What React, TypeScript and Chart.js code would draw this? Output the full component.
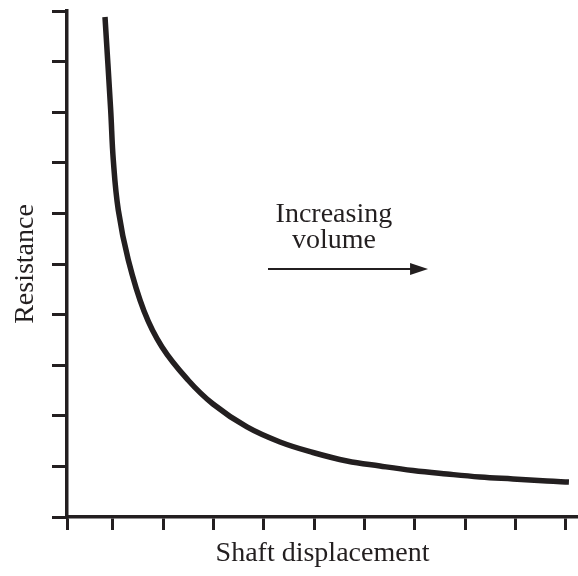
import React, { useEffect, useRef } from "react";
import { Chart, registerables } from "chart.js";

Chart.register(...registerables);

// Curve (x: shaft displacement units, y: resistance units)
const displacement = [0.841, 0.954, 1.006, 1.105, 1.304, 1.616, 1.974, 2.49, 2.987, 3.662, 4.318, 4.974, 5.649, 6.305, 6.961, 7.636, 8.292, 8.948, 9.623, 10.06];
const resistance = [9.881, 8.043, 7.055, 6.067, 5.079, 4.071, 3.36, 2.708, 2.233, 1.779, 1.482, 1.275, 1.107, 1.008, 0.919, 0.85, 0.791, 0.751, 0.711, 0.692];

const xTickValues = [1, 2, 3, 4, 5, 6, 7, 8, 9, 10];
const yTickValues = [0, 1, 2, 3, 4, 5, 6, 7, 8, 9, 10];
const X_MIN = 0.086;
const X_MAX = 10.24;
const Y_MIN = 0;
const Y_MAX = 10;

const xTitle = "Shaft displacement";
const yTitle = "Resistance";
const noteLines = ["Increasing", "volume"];

const INK = "#231f20";
const FONT = "'Liberation Serif', 'Times New Roman', serif";

const annotationPlugin = {
  id: "noteArrow",
  afterDraw(chart: any) {
    const { ctx, scales } = chart;
    const xs = scales.x;
    const ys = scales.y;
    ctx.save();
    ctx.fillStyle = INK;
    ctx.strokeStyle = INK;
    ctx.font = `28px ${FONT}`;
    ctx.textAlign = "center";
    ctx.textBaseline = "alphabetic";
    const cx = xs.getPixelForValue(5.39);
    ctx.fillText(noteLines[0], cx, ys.getPixelForValue(5.83));
    ctx.fillText(noteLines[1], cx, ys.getPixelForValue(5.32));
    // arrow
    const ay = ys.getPixelForValue(4.9);
    const ax0 = xs.getPixelForValue(4.08);
    const ax1 = xs.getPixelForValue(7.26);
    ctx.lineWidth = 2;
    ctx.beginPath();
    ctx.moveTo(ax0, ay);
    ctx.lineTo(ax1 - 14, ay);
    ctx.stroke();
    ctx.beginPath();
    ctx.moveTo(ax1, ay);
    ctx.lineTo(ax1 - 18, ay - 6);
    ctx.lineTo(ax1 - 18, ay + 6);
    ctx.closePath();
    ctx.fill();
    ctx.restore();
  },
};

export default function App() {
  const ref = useRef<HTMLCanvasElement | null>(null);

  useEffect(() => {
    if (!ref.current) return;
    const chart = new Chart(ref.current, {
      type: "line",
      data: {
        datasets: [
          {
            data: displacement.map((x, i) => ({ x, y: resistance[i] })),
            borderColor: INK,
            borderWidth: 5.5,
            pointRadius: 0,
            fill: false,
            tension: 0.4,
            borderCapStyle: "butt",
            borderJoinStyle: "round",
          },
        ],
      },
      options: {
        animation: false,
        responsive: false,
        devicePixelRatio: 1,
        events: [],
        layout: { padding: { top: 11, left: 0, right: 0, bottom: 0 } },
        plugins: {
          legend: { display: false },
          tooltip: { enabled: false },
        },
        scales: {
          x: {
            type: "linear",
            min: X_MIN,
            max: X_MAX,
            afterBuildTicks: (scale: any) => {
              scale.ticks = [X_MIN, ...xTickValues].map((v) => ({ value: v }));
            },
            afterFit: (scale: any) => {
              scale.height = 59;
            },
            ticks: { display: false },
            grid: {
              drawOnChartArea: false,
              drawTicks: true,
              tickLength: 13,
              lineWidth: 3,
              color: INK,
            },
            border: { display: true, width: 3.5, color: INK },
            title: {
              display: true,
              text: xTitle,
              color: INK,
              font: { family: FONT, size: 28 },
              padding: { top: 0, bottom: 6 },
            },
          },
          y: {
            type: "linear",
            min: Y_MIN,
            max: Y_MAX,
            afterBuildTicks: (scale: any) => {
              scale.ticks = yTickValues.map((v) => ({ value: v }));
            },
            afterFit: (scale: any) => {
              scale.width = 67;
            },
            ticks: { display: false },
            grid: {
              drawOnChartArea: false,
              drawTicks: true,
              tickLength: 15,
              lineWidth: 3,
              color: INK,
            },
            border: { display: true, width: 3.5, color: INK },
            title: {
              display: true,
              text: yTitle,
              color: INK,
              font: { family: FONT, size: 28 },
              padding: { top: 9, bottom: 0 },
            },
          },
        },
      },
      plugins: [annotationPlugin],
    } as any);
    return () => chart.destroy();
  }, []);

  return (
    <div style={{ position: "fixed", left: 0, top: 0, width: 578, height: 576, background: "#fff" }}>
      <canvas ref={ref} width={578} height={576} style={{ display: "block" }} />
    </div>
  );
}
